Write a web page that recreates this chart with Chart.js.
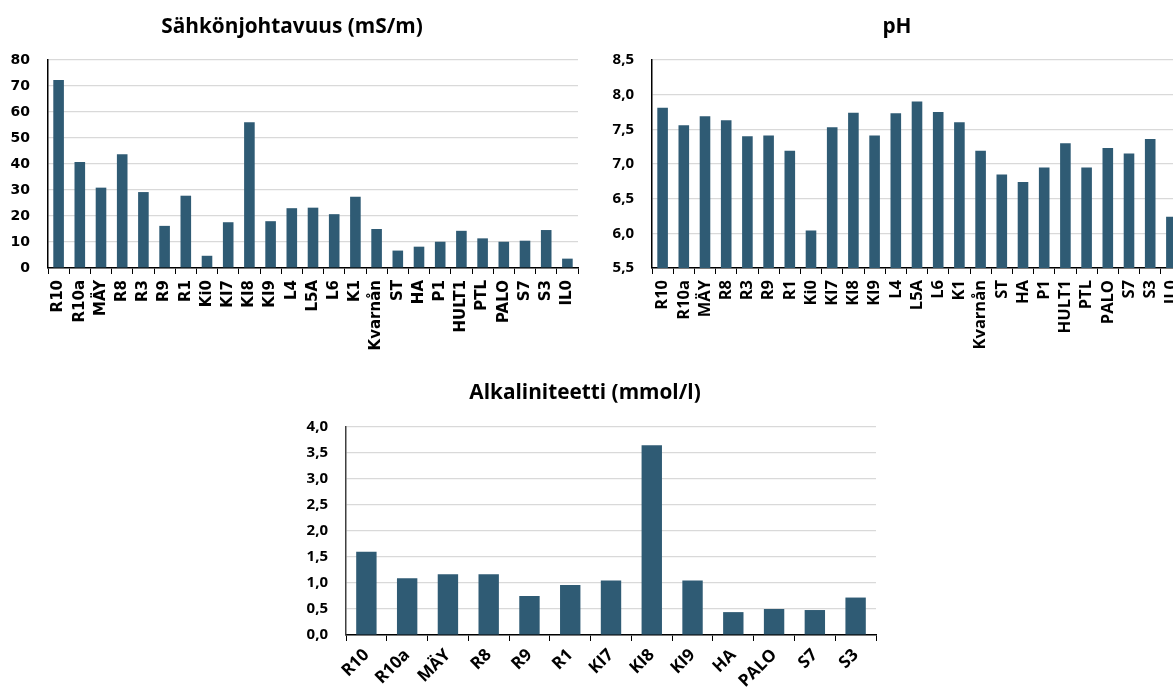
<!DOCTYPE html>
<html>
<head>
<meta charset="utf-8">
<script src="https://cdn.jsdelivr.net/npm/chart.js@4.4.0/dist/chart.umd.min.js"></script>
<style>
  html, body { margin: 0; padding: 0; background: #fff; overflow: hidden; width: 1173px; height: 687px; position: relative; }
  canvas { position: absolute; }
</style>
</head>
<body>
<canvas id="cond-chart" width="600" height="360" style="left:0;top:0"></canvas>
<canvas id="ph-chart" width="600" height="360" style="left:600px;top:0"></canvas>
<canvas id="alk-chart" width="620" height="340" style="left:280px;top:360px"></canvas>
<script>
// sampling sites
const sites = ['R10', 'R10a', 'MÄY', 'R8', 'R3', 'R9', 'R1', 'Ki0', 'KI7', 'KI8', 'KI9', 'L4', 'L5A', 'L6', 'K1', 'Kvarnån', 'ST', 'HA', 'P1', 'HULT1', 'PTL', 'PALO', 'S7', 'S3', 'IL0'];
const conductivity = [72.3, 40.8, 30.9, 43.7, 29.2, 16.2, 27.8, 4.7, 17.6, 56.0, 18.0, 23.0, 23.2, 20.7, 27.4, 15.0, 6.7, 8.2, 10.1, 14.3, 11.4, 10.1, 10.5, 14.6, 3.6];
const ph = [7.81, 7.56, 7.69, 7.63, 7.40, 7.41, 7.19, 6.04, 7.53, 7.74, 7.41, 7.73, 7.90, 7.75, 7.60, 7.19, 6.85, 6.74, 6.95, 7.30, 6.95, 7.23, 7.15, 7.36, 6.24];

const alkSites = ['R10', 'R10a', 'MÄY', 'R8', 'R9', 'R1', 'KI7', 'KI8', 'KI9', 'HA', 'PALO', 'S7', 'S3'];
const alkalinity = [1.60, 1.09, 1.17, 1.17, 0.75, 0.96, 1.05, 3.65, 1.05, 0.44, 0.50, 0.48, 0.72];

const barColor = '#2f5b74';
const gridColor = '#d9d9d9';
const calibriLike = '"Open Sans", "Noto Sans", sans-serif';
const verdanaLike = '"DejaVu Sans", sans-serif';

const comma = (v) => v.toFixed(1).replace('.', ',');

function makeBarChart(id, cfg) {
  const ctx = document.getElementById(id).getContext('2d');
  return new Chart(ctx, {
    type: 'bar',
    data: {
      labels: cfg.labels,
      datasets: [{
        data: cfg.values,
        backgroundColor: barColor,
        borderWidth: 0,
        categoryPercentage: 1,
        barPercentage: 0.5
      }]
    },
    options: {
      responsive: false,
      animation: false,
      layout: { padding: { left: cfg.padLeft, right: cfg.padRight, top: 0, bottom: 0 } },
      plugins: {
        legend: { display: false },
        tooltip: { enabled: false },
        title: {
          display: true,
          text: cfg.title,
          color: '#000',
          font: { family: calibriLike, size: 20.8, weight: 'bold' },
          padding: { top: cfg.titleTop, bottom: cfg.titleBottom }
        }
      },
      scales: {
        x: {
          grid: {
            offset: true,
            drawOnChartArea: false,
            drawTicks: true,
            tickLength: 6,
            color: '#000',
            tickColor: '#000'
          },
          border: { display: true, color: '#000', width: 1.5 },
          ticks: {
            color: '#000',
            autoSkip: false,
            minRotation: cfg.rotation,
            maxRotation: cfg.rotation,
            padding: cfg.labelPad,
            font: { family: cfg.labelFont, size: cfg.labelSize, weight: 'bold' }
          },
          afterFit: (scale) => { scale.height = cfg.xHeight; }
        },
        y: {
          min: cfg.min,
          max: cfg.max,
          grid: { color: gridColor, lineWidth: 1.2, drawTicks: false },
          border: { display: true, color: cfg.yAxisColor, width: 1.5 },
          ticks: {
            stepSize: cfg.step,
            color: '#000',
            padding: 18,
            font: { family: cfg.tickFont, size: cfg.tickSize, weight: 'bold' },
            callback: cfg.format
          },
          afterFit: (scale) => { scale.width = cfg.yWidth; }
        }
      }
    }
  });
}

makeBarChart('cond-chart', {
  labels: sites,
  values: conductivity,
  title: 'Sähkönjohtavuus (mS/m)',
  min: 0, max: 80, step: 10,
  format: (v) => v,
  padLeft: 6, padRight: 22, yWidth: 42, xHeight: 92,
  titleTop: 14.5, titleBottom: 20.5,
  rotation: 90, labelPad: 6,
  labelFont: verdanaLike, labelSize: 15,
  tickFont: verdanaLike, tickSize: 14,
  yAxisColor: '#000'
});

makeBarChart('ph-chart', {
  labels: sites,
  values: ph,
  title: 'pH',
  min: 5.5, max: 8.5, step: 0.5,
  format: comma,
  padLeft: 12, padRight: 18, yWidth: 40, xHeight: 92,
  titleTop: 14.5, titleBottom: 20.5,
  rotation: 90, labelPad: 6,
  labelFont: calibriLike, labelSize: 16.5,
  tickFont: calibriLike, tickSize: 15,
  yAxisColor: '#000'
});

makeBarChart('alk-chart', {
  labels: alkSites,
  values: alkalinity,
  title: 'Alkaliniteetti (mmol/l)',
  min: 0, max: 4, step: 0.5,
  format: comma,
  padLeft: 14, padRight: 24, yWidth: 52, xHeight: 65,
  titleTop: 20.5, titleBottom: 21.5,
  rotation: 45, labelPad: 4,
  labelFont: calibriLike, labelSize: 17,
  tickFont: calibriLike, tickSize: 15,
  yAxisColor: '#404040'
});
</script>
</body>
</html>
